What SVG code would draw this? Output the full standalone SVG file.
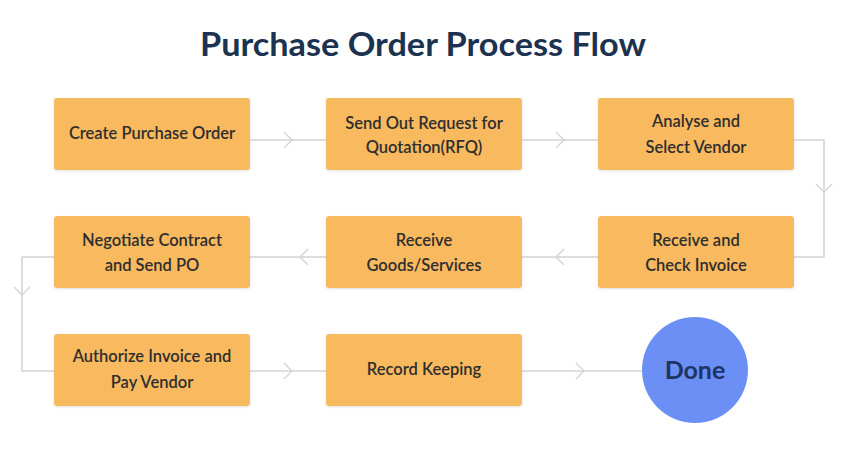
<svg xmlns="http://www.w3.org/2000/svg" width="850" height="450" viewBox="0 0 850 450">
<defs>
<style>
.box{fill:#F9B95E;}
.lbl{font-family:Lato,"Open Sans",sans-serif;font-size:16.5px;font-weight:600;fill:#2E2E2E;text-anchor:middle;}
.ln{fill:none;stroke:#D4D4D4;stroke-width:1.6;}
.chev{fill:none;stroke:#D4D4D4;stroke-width:1.4;}
</style>
<filter id="sh" x="-5%" y="-5%" width="110%" height="115%"><feDropShadow dx="0" dy="1" stdDeviation="1" flood-color="#000" flood-opacity="0.12"/></filter>
</defs>
<rect width="850" height="450" fill="#FFFFFF"/>
<text x="423" y="56" font-family="Lato,'Open Sans',sans-serif" font-size="32" font-weight="700" fill="#1B3350" text-anchor="middle" textLength="446" lengthAdjust="spacingAndGlyphs">Purchase Order Process Flow</text>
<g id="connectors">
<path class="ln" d="M250 140H326"/>
<path class="chev" d="M284 132L292 140L284 148"/>
<path class="ln" d="M522 140H598"/>
<path class="chev" d="M556 132L564 140L556 148"/>
<path class="ln" d="M794 140H824V257H794"/>
<path class="chev" d="M816 184L824 192L832 184"/>
<path class="ln" d="M598 257H522"/>
<path class="chev" d="M564 249L556 257L564 265"/>
<path class="ln" d="M326 257H250"/>
<path class="chev" d="M308 249L300 257L308 265"/>
<path class="ln" d="M54 257H22V371H54"/>
<path class="chev" d="M14 287L22 295L30 287"/>
<path class="ln" d="M250 371H326"/>
<path class="chev" d="M284 363L292 371L284 379"/>
<path class="ln" d="M522 371H642"/>
<path class="chev" d="M576 363L584 371L576 379"/>
</g>
<g id="n1"><rect class="box" x="54" y="98" width="196" height="72" rx="3" filter="url(#sh)"/><text class="lbl" x="152" y="139">Create Purchase Order</text></g>
<g id="n2"><rect class="box" x="326" y="98" width="196" height="72" rx="3" filter="url(#sh)"/><text class="lbl" x="424" y="129">Send Out Request for</text><text class="lbl" x="424" y="153">Quotation(RFQ)</text></g>
<g id="n3"><rect class="box" x="598" y="98" width="196" height="72" rx="3" filter="url(#sh)"/><text class="lbl" x="696" y="127">Analyse and</text><text class="lbl" x="696" y="153">Select Vendor</text></g>
<g id="n4"><rect class="box" x="54" y="216" width="196" height="72" rx="3" filter="url(#sh)"/><text class="lbl" x="152" y="246">Negotiate Contract</text><text class="lbl" x="152" y="271">and Send PO</text></g>
<g id="n5"><rect class="box" x="326" y="216" width="196" height="72" rx="3" filter="url(#sh)"/><text class="lbl" x="424" y="246">Receive</text><text class="lbl" x="424" y="271">Goods/Services</text></g>
<g id="n6"><rect class="box" x="598" y="216" width="196" height="72" rx="3" filter="url(#sh)"/><text class="lbl" x="696" y="246">Receive and</text><text class="lbl" x="696" y="271">Check Invoice</text></g>
<g id="n7"><rect class="box" x="54" y="334" width="196" height="72" rx="3" filter="url(#sh)"/><text class="lbl" x="152" y="362">Authorize Invoice and</text><text class="lbl" x="152" y="388">Pay Vendor</text></g>
<g id="n8"><rect class="box" x="326" y="334" width="196" height="72" rx="3" filter="url(#sh)"/><text class="lbl" x="424" y="375">Record Keeping</text></g>
<g id="done"><circle cx="695" cy="370" r="53" fill="#6B8FF5"/><text x="695" y="379" font-family="Lato,'Open Sans',sans-serif" font-size="25" font-weight="700" fill="#1E3561" text-anchor="middle">Done</text></g>
</svg>
